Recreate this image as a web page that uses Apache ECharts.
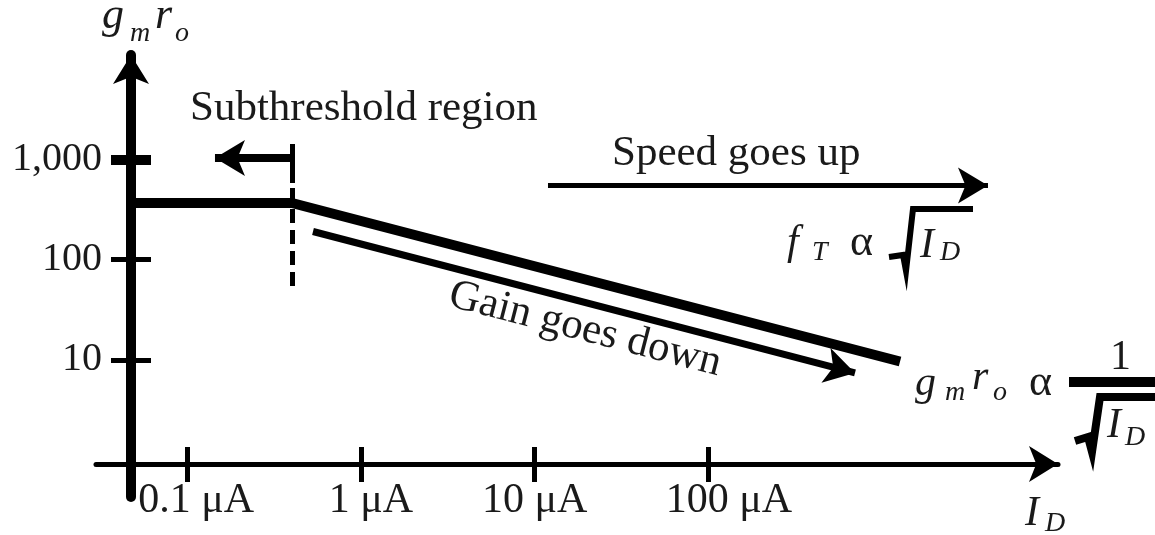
<!DOCTYPE html>
<html>
<head>
<meta charset="utf-8">
<script src="https://cdn.jsdelivr.net/npm/echarts@6/dist/echarts.min.js"></script>
<style>
  html, body { margin: 0; padding: 0; background: #ffffff; }
  #chart { width: 1155px; height: 535px; }
</style>
</head>
<body>
<div id="chart"></div>
<script>
// ---------- data ----------
const xTicks = [0.1, 1, 10, 100];                       // I_D in µA
const xTickLabels = ['0.1 μA', '1 μA', '10 μA', '100 μA'];
const yTicks = [10, 100, 1000];                         // g_m r_o
const yTickLabels = ['10', '100', '1,000'];

// intrinsic gain curve g_m r_o vs I_D
const gainCurveX = [0.0475, 0.4, 1270];
const gainCurveY = [368, 368, 9.64];

// subthreshold boundary
const subthresholdEdge = 0.4;
const edgeSolidY = [1425, 582];
const edgeDashedY = [519, 46.5];
// "subthreshold region" arrow (pointing left)
const subArrowX = [0.4, 0.1445];
const subArrowY = [1033, 1033];
// "speed goes up" arrow
const speedArrowX = [11.94, 4074];
const speedArrowY = [549, 549];
// "gain goes down" arrow
const gainArrowX = [0.53, 699];
const gainArrowY = [191, 7.41];

// axis extents
const xMin = 0.02985, xMax = 10306;
const yMin = 0.4291, yMax = 11006;

// ---------- chart ----------
const SERIF = "'Liberation Serif', 'Times New Roman', serif";
const INK = '#1a1a1a';
const chart = echarts.init(document.getElementById('chart'), null, { renderer: 'canvas' });

function xLabel(v) {
  const i = xTicks.findIndex(t => Math.abs(t - v) / t < 1e-6);
  return i < 0 ? '' : '{l' + i + '|' + xTickLabels[i] + '}';
}
function yLabel(v) {
  const i = yTicks.findIndex(t => Math.abs(t - v) / t < 1e-6);
  return i < 0 ? '' : yTickLabels[i];
}
const xRichBase = { fontFamily: SERIF, fontSize: 42, color: INK };

function seg(x0, y0, x1, y1) {
  return [{ coord: [x0, y0] }, { coord: [x1, y1] }];
}
function arrowSeg(x0, y0, x1, y1) {
  return [{ coord: [x0, y0], symbol: 'none' },
          { coord: [x1, y1], symbol: 'arrow', symbolSize: [27, 30] }];
}
function txt(text, x, y, size, italic, extra) {
  return Object.assign({
    type: 'text', x: x, y: y, silent: true,
    style: {
      text: text,
      font: (italic ? 'italic ' : '') + size + 'px ' + SERIF,
      fill: INK,
      align: 'left', verticalAlign: 'middle',
      textAlign: 'left', textVerticalAlign: 'middle'
    }
  }, extra || {});
}

const baseX = { type: 'log', logBase: 10, min: xMin, max: xMax, gridIndex: 0, position: 'bottom', splitLine: { show: false }, minorTick: { show: false } };
const baseY = { type: 'log', logBase: 10, min: yMin, max: yMax, gridIndex: 0, position: 'left', splitLine: { show: false }, minorTick: { show: false } };

const arrowMarkBase = {
  silent: true, animation: false, label: { show: false },
  symbol: ['none', 'arrow'], symbolSize: 30
};

const option = {
  animation: false,
  backgroundColor: '#ffffff',
  grid: { left: 96, right: 97, top: 55, bottom: 38, containLabel: false, outerBoundsMode: 'none' },
  xAxis: [
    Object.assign({}, baseX, {
      offset: -33,
      axisLine: { show: true, symbol: ['none', 'arrow'], symbolSize: [27, 29], symbolOffset: [0, 0],
        lineStyle: { color: '#000', width: 5 } },
      axisTick: { show: false },
      axisLabel: { show: true, customValues: xTicks, formatter: xLabel, margin: 16,
        fontFamily: SERIF, fontSize: 42, color: INK,
        rich: {
          l0: Object.assign({ padding: [0, 0, 0, 18] }, xRichBase),
          l1: Object.assign({ padding: [0, 0, 0, 20] }, xRichBase),
          l2: Object.assign({}, xRichBase),
          l3: Object.assign({ padding: [0, 0, 0, 41] }, xRichBase)
        } }
    }),
    Object.assign({}, baseX, {
      offset: -50,
      axisLine: { show: false },
      axisTick: { show: true, customValues: xTicks, length: 35, inside: false, lineStyle: { color: '#000', width: 5 } },
      axisLabel: { show: false }
    })
  ],
  yAxis: [
    Object.assign({}, baseY, {
      offset: -35,
      axisLine: { show: true, symbol: ['none', 'arrow'], symbolSize: [27, 29], symbolOffset: [0, 0],
        lineStyle: { color: '#000', width: 10 } },
      axisTick: { show: false },
      axisLabel: { show: true, customValues: yTicks, formatter: yLabel, margin: 29, padding: [0, 0, 18, 0],
        fontFamily: SERIF, fontSize: 40, color: INK }
    }),
    Object.assign({}, baseY, {
      offset: -55,
      axisLine: { show: false },
      axisTick: { show: true, customValues: [10, 100], length: 40, inside: false, lineStyle: { color: '#000', width: 5 } },
      axisLabel: { show: false }
    }),
    Object.assign({}, baseY, {
      offset: -55,
      axisLine: { show: false },
      axisTick: { show: true, customValues: [1000], length: 40, inside: false, lineStyle: { color: '#000', width: 10 } },
      axisLabel: { show: false }
    })
  ],
  series: [
    {
      name: 'gm ro',
      type: 'line',
      xAxisIndex: 0, yAxisIndex: 0,
      data: gainCurveX.map((x, i) => [x, gainCurveY[i]]),
      showSymbol: false, symbol: 'none',
      lineStyle: { color: '#000', width: 10, cap: 'butt', join: 'miter' },
      z: 3
    },
    {
      name: 'edge solid', type: 'line', xAxisIndex: 0, yAxisIndex: 0, data: [],
      markLine: {
        silent: true, animation: false, label: { show: false }, symbol: ['none', 'none'],
        lineStyle: { color: '#000', width: 5, type: 'solid' },
        data: [seg(subthresholdEdge, edgeSolidY[0], subthresholdEdge, edgeSolidY[1])]
      }
    },
    {
      name: 'edge dashed', type: 'line', xAxisIndex: 0, yAxisIndex: 0, data: [],
      markLine: {
        silent: true, animation: false, label: { show: false }, symbol: ['none', 'none'],
        lineStyle: { color: '#000', width: 5, type: [14, 7] },
        data: [seg(subthresholdEdge, edgeDashedY[0], subthresholdEdge, edgeDashedY[1])]
      }
    },
    {
      name: 'sub arrow', type: 'line', xAxisIndex: 0, yAxisIndex: 0, data: [],
      markLine: Object.assign({}, arrowMarkBase, {
        lineStyle: { color: '#000', width: 8, type: 'solid' },
        data: [arrowSeg(subArrowX[0], subArrowY[0], subArrowX[1], subArrowY[1])]
      })
    },
    {
      name: 'speed arrow', type: 'line', xAxisIndex: 0, yAxisIndex: 0, data: [],
      markLine: Object.assign({}, arrowMarkBase, {
        lineStyle: { color: '#000', width: 5, type: 'solid' },
        data: [arrowSeg(speedArrowX[0], speedArrowY[0], speedArrowX[1], speedArrowY[1])]
      })
    },
    {
      name: 'gain arrow', type: 'line', xAxisIndex: 0, yAxisIndex: 0, data: [],
      markLine: Object.assign({}, arrowMarkBase, {
        lineStyle: { color: '#000', width: 7, type: 'solid' },
        data: [arrowSeg(gainArrowX[0], gainArrowY[0], gainArrowX[1], gainArrowY[1])]
      })
    }
  ],
  graphic: [
    // y-axis title g_m r_o
    txt('g', 102, 16, 44, true), txt('m', 130, 33.5, 28, true),
    txt('r', 155, 16, 44, true), txt('o', 175, 33.5, 28, true),
    // x-axis title I_D
    txt('I', 1025, 514, 42, true), txt('D', 1045, 523.5, 28, true),
    // annotations
    txt('Subthreshold region', 190, 108.5, 43, false),
    txt('Speed goes up', 612, 153.5, 43, false),
    {
      type: 'text', x: 585, y: 329.5, rotation: -0.253, silent: true,
      style: { text: 'Gain goes down', font: '43px ' + SERIF, fill: INK,
        align: 'center', verticalAlign: 'middle', textAlign: 'center', textVerticalAlign: 'middle' }
    },
    // f_T α sqrt(I_D)
    txt('f', 787, 243, 42, true), txt('T', 812, 252.5, 28, true),
    txt('α', 850, 243, 44, false),
    { type: 'polyline', silent: true, shape: { points: [[889, 257], [903, 255], [906, 271], [913, 209], [973, 209]] },
      style: { stroke: '#000', lineWidth: 6, fill: null, lineJoin: 'miter' } },
    txt('I', 920, 246, 42, true), txt('D', 940, 252.5, 28, true),
    // g_m r_o α 1/sqrt(I_D)
    txt('g', 915, 384, 42, true), txt('m', 945, 392.5, 28, true),
    txt('r', 972, 378, 42, true), txt('o', 993, 392.5, 28, true),
    txt('α', 1029, 383, 44, false),
    txt('1', 1110, 358, 42, false),
    { type: 'line', silent: true, shape: { x1: 1069, y1: 382, x2: 1155, y2: 382 },
      style: { stroke: '#000', lineWidth: 10 } },
    { type: 'polyline', silent: true, shape: { points: [[1075, 441], [1088, 437], [1092, 452], [1100, 397], [1155, 397]] },
      style: { stroke: '#000', lineWidth: 8, fill: null, lineJoin: 'miter' } },
    txt('I', 1107, 426, 42, true), txt('D', 1125, 437.5, 28, true)
  ]
};
chart.setOption(option);
</script>
</body>
</html>
